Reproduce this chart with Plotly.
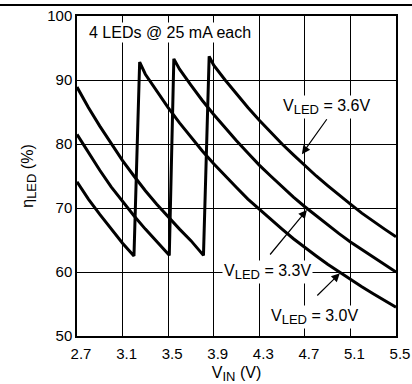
import plotly.graph_objects as go

# V_LED = 3.0 V
vin_30 = [2.7, 2.8, 2.9, 3.0, 3.1, 3.2, 3.25, 3.3, 3.4, 3.5, 3.6, 3.7, 3.8, 3.9, 4.0, 4.1, 4.2,
          4.3, 4.4, 4.5, 4.6, 4.7, 4.8, 4.9, 5.0, 5.1, 5.2, 5.3, 5.4, 5.5]
eff_30 = [74.1, 71.4, 69.0, 66.7, 64.5, 62.5, 92.8, 90.9, 88.2, 85.7, 83.3, 81.1, 78.9, 76.9, 75.0,
          73.2, 71.4, 69.8, 68.2, 66.7, 65.2, 63.8, 62.5, 61.2, 60.0, 58.8, 57.7, 56.6, 55.6, 54.5]

# V_LED = 3.3 V
vin_33 = [2.7, 2.8, 2.9, 3.0, 3.1, 3.2, 3.3, 3.4, 3.51, 3.55, 3.6, 3.7, 3.8, 3.9, 4.0, 4.1, 4.2,
          4.3, 4.4, 4.5, 4.6, 4.7, 4.8, 4.9, 5.0, 5.1, 5.2, 5.3, 5.4, 5.5]
eff_33 = [81.5, 78.6, 75.9, 73.3, 71.0, 68.8, 66.7, 64.7, 62.6, 93.3, 91.7, 89.2, 86.8, 84.6, 82.5,
          80.5, 78.6, 76.7, 75.0, 73.3, 71.7, 70.2, 68.8, 67.3, 66.0, 64.7, 63.5, 62.3, 61.1, 60.0]

# V_LED = 3.6 V
vin_36 = [2.7, 2.8, 2.9, 3.0, 3.1, 3.2, 3.3, 3.4, 3.5, 3.6, 3.7, 3.81, 3.86, 3.9, 4.0, 4.1, 4.2,
          4.3, 4.4, 4.5, 4.6, 4.7, 4.8, 4.9, 5.0, 5.1, 5.2, 5.3, 5.4, 5.5]
eff_36 = [88.9, 85.7, 82.8, 80.0, 77.4, 75.0, 72.7, 70.6, 68.6, 66.7, 64.9, 62.6, 93.7, 92.3, 90.0,
          87.8, 85.7, 83.7, 81.8, 80.0, 78.3, 76.6, 75.0, 73.5, 72.0, 70.6, 69.2, 67.9, 66.7, 65.5]

x_ticks = [2.7, 3.1, 3.5, 3.9, 4.3, 4.7, 5.1, 5.5]
y_ticks = [50, 60, 70, 80, 90, 100]

_FONT = "'Liberation Sans', Arial, Helvetica, sans-serif"


def _sub(s, size=13):
    return f"<sub><span style='font-size:{size}px'>{s}</span></sub>"


fig = go.Figure()
for xs, ys in [(vin_30, eff_30), (vin_33, eff_33), (vin_36, eff_36)]:
    fig.add_trace(go.Scatter(x=xs, y=ys, mode="lines",
                             line=dict(color="black", width=3), showlegend=False))

labels = [
    ("V" + _sub("LED") + " = 3.6V", 4.893, 85.8),
    ("V" + _sub("LED") + " = 3.3V", 4.375, 60.0),
    ("V" + _sub("LED") + " = 3.0V", 4.788, 52.9),
    ("4 LEDs @ 25 mA each", 3.516, 97.5),
]
for txt, x, y in labels:
    fig.add_annotation(x=x, y=y, text=txt, showarrow=False, bgcolor="white",
                       font=dict(size=16, color="black"), borderpad=1)

arrows = [((4.674, 78.4), (4.902, 84.1)),
          ((4.718, 69.7), (4.384, 62.5)),
          ((5.007, 59.8), (4.796, 56.1))]
for (hx, hy), (tx, ty) in arrows:
    fig.add_annotation(x=hx, y=hy, ax=tx, ay=ty, axref="x", ayref="y", text="",
                       showarrow=True, arrowhead=2, arrowsize=1.4, arrowwidth=1.2,
                       arrowcolor="black")

# rule across the top of the page
fig.add_shape(type="line", xref="paper", yref="paper", x0=-0.25, x1=1.06, y0=1.034, y1=1.034,
              line=dict(color="black", width=2))

fig.update_layout(
    width=412, height=384,
    paper_bgcolor="white", plot_bgcolor="white",
    font=dict(family=_FONT, size=15, color="black"),
    margin=dict(l=77, r=16, t=16, b=48, autoexpand=False),
    xaxis=dict(range=[2.7, 5.5], tickvals=x_ticks, ticktext=[f"{v:.1f}" for v in x_ticks],
               showgrid=True, gridcolor="black", gridwidth=1, zeroline=False, automargin=False,
               showline=True, linecolor="black", linewidth=1.5, mirror=True, ticks="",
               ticklabelshift=4, ticklabelstandoff=3,
               title=dict(text="V" + _sub("IN") + " (V)", standoff=9, font=dict(size=16))),
    yaxis=dict(range=[50, 100], tickvals=y_ticks,
               showgrid=True, gridcolor="black", gridwidth=1, zeroline=False, automargin=False,
               showline=True, linecolor="black", linewidth=1.5, mirror=True, ticks="",
               title=dict(text="η" + _sub("LED") + " (%)", standoff=10, font=dict(size=16))),
)

fig.write_html("out.html", config={"displayModeBar": False},
               post_script="document.body.style.margin='0px';")
